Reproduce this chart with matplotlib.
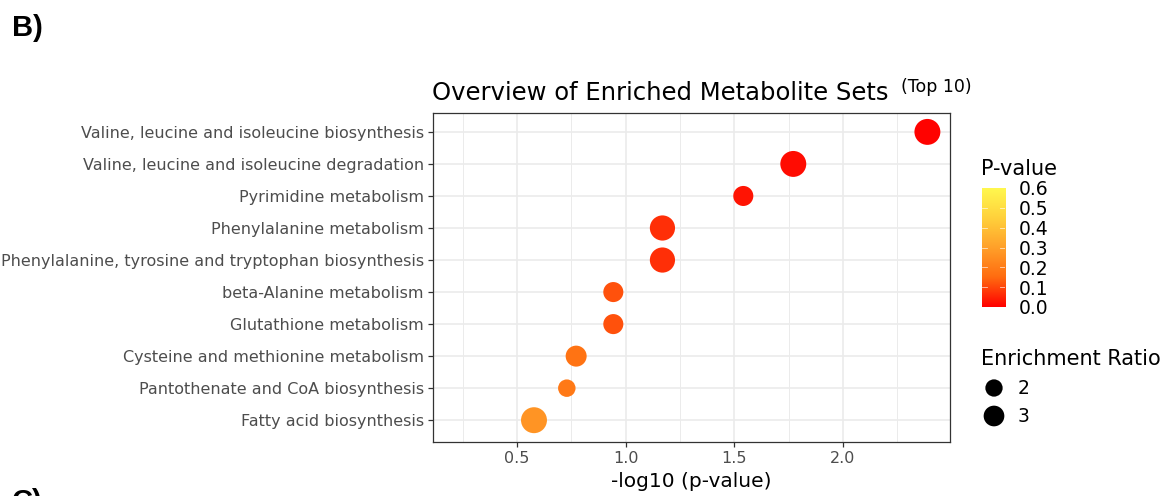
import numpy as np
import matplotlib
matplotlib.use("Agg")
import matplotlib.pyplot as plt
from matplotlib.colors import LinearSegmentedColormap, Normalize

# top-10 enriched metabolite sets, listed top to bottom
pathways = [
    "Valine, leucine and isoleucine biosynthesis",
    "Valine, leucine and isoleucine degradation",
    "Pyrimidine metabolism",
    "Phenylalanine metabolism",
    "Phenylalanine, tyrosine and tryptophan biosynthesis",
    "beta-Alanine metabolism",
    "Glutathione metabolism",
    "Cysteine and methionine metabolism",
    "Pantothenate and CoA biosynthesis",
    "Fatty acid biosynthesis",
]
neg_log_p = [2.388, 1.771, 1.541, 1.169, 1.169, 0.943, 0.943, 0.772, 0.729, 0.578]
enrichment = [4.9, 4.9, 2.8, 4.6, 4.6, 2.8, 2.8, 3.1, 2.05, 4.9]
legend_ratios = [2, 3]
cbar_ticks = [0.0, 0.1, 0.2, 0.3, 0.4, 0.5, 0.6]

pvals = 10 ** (-np.array(neg_log_p))

# red -> yellow gradient (ggplot style, interpolated in Lab)
cmap = LinearSegmentedColormap.from_list(
    "ryl", [(0.0, "#FF0000"), (0.25, "#FF6C10"), (0.5, "#FFA12A"),
            (0.75, "#FFD23C"), (1.0, "#FFF94F")])
norm = Normalize(0.0, 0.6)


def ratio_to_size(r):
    # marker area grows linearly with the enrichment ratio
    d2 = 41 + 129 * np.asarray(r, dtype=float)   # diameter^2 in px
    return 0.5184 * d2                            # points^2 at 100 dpi


fig = plt.figure(figsize=(11.73, 4.96), dpi=100)
W, H = 1173, 496
ax = fig.add_axes([432.7 / W, 1 - 442.3 / H, (950 - 432.7) / W, (442.3 - 113) / H])

ypos = np.arange(len(pathways))
ax.scatter(neg_log_p, ypos, s=ratio_to_size(enrichment), c=pvals, cmap=cmap,
           norm=norm, edgecolors="none", zorder=3)

ax.set_xlim(0.112, 2.492)
ax.set_ylim(len(pathways) - 0.31, -0.59)
ax.set_yticks(ypos)
ax.set_yticklabels(pathways)
ax.set_xticks([0.5, 1.0, 1.5, 2.0])
ax.set_xticklabels(["0.5", "1.0", "1.5", "2.0"])
ax.set_xticks([0.25, 0.75, 1.25, 1.75, 2.25], minor=True)

ax.grid(True, which="major", color="#EBEBEB", linewidth=1.2, zorder=0)
ax.grid(True, which="minor", axis="x", color="#EBEBEB", linewidth=0.7, zorder=0)
ax.set_axisbelow(True)
for sp in ax.spines.values():
    sp.set_color("#333333")
    sp.set_linewidth(0.9)
ax.tick_params(axis="both", which="major", colors="#333333", length=3.5,
               width=0.9, labelsize=11.5, labelcolor="#4D4D4D", pad=3)
ax.tick_params(axis="x", which="minor", length=0)

ax.set_xlabel("-log10 (p-value)", fontsize=14.5, color="black", labelpad=4)

fig.text(432 / W, 1 - 100 / H, "Overview of Enriched Metabolite Sets",
         fontsize=17.5, va="baseline", ha="left")
fig.text(901 / W, 1 - 92 / H, "(Top 10)", fontsize=12.5, va="baseline", ha="left")

fig.text(12 / W, 1 - 36 / H, "B)", fontsize=21, fontweight="bold",
         family="Liberation Sans", va="baseline", ha="left")
fig.text(12 / W, 1 - 510 / H, "C)", fontsize=21, fontweight="bold",
         family="Liberation Sans", va="baseline", ha="left")

# P-value colour bar
fig.text(981 / W, 1 - 175 / H, "P-value", fontsize=15, va="baseline", ha="left")
cax = fig.add_axes([982 / W, 1 - 307 / H, 23 / W, 119 / H])
grad = np.linspace(0, 0.6, 256).reshape(-1, 1)
cax.imshow(grad, cmap=cmap, norm=norm, aspect="auto", origin="lower",
           extent=[0, 1, 0, 0.6])
cax.set_xlim(0, 1)
cax.set_ylim(0, 0.6)
for t in cbar_ticks[1:-1]:
    cax.plot([0, 0.2], [t, t], color="white", lw=0.6, alpha=0.7)
    cax.plot([0.8, 1], [t, t], color="white", lw=0.6, alpha=0.7)
cax.set_xticks([])
cax.yaxis.tick_right()
cax.set_yticks(cbar_ticks)
cax.set_yticklabels([f"{t:.1f}" for t in cbar_ticks])
cax.tick_params(axis="y", length=0, labelsize=13.5, pad=10)
for sp in cax.spines.values():
    sp.set_visible(False)

# enrichment ratio size legend
fig.text(981 / W, 1 - 365 / H, "Enrichment Ratio", fontsize=15, va="baseline", ha="left")
leg_y = [1 - 388 / H, 1 - 416 / H]
ax.scatter([994 / W] * 2, leg_y, s=ratio_to_size(legend_ratios), c="black",
           edgecolors="none", transform=fig.transFigure, clip_on=False)
for r, y in zip(legend_ratios, leg_y):
    fig.text(1018 / W, y, str(r), fontsize=13.5, va="center", ha="left")

fig.savefig("out.png", dpi=100)
